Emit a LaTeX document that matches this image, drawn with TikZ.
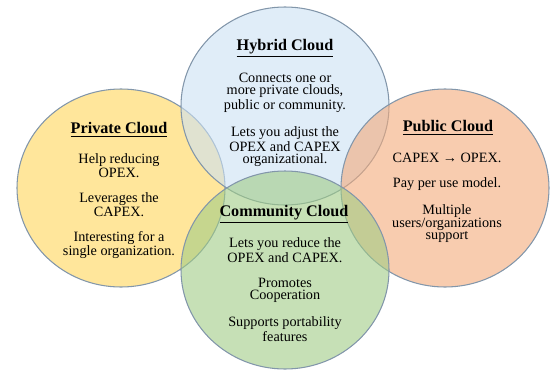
\documentclass[tikz,border=0pt]{standalone}
\usepackage{fontspec}
\setmainfont{Liberation Serif}
\usetikzlibrary{shapes.geometric}

\definecolor{HybridBlue}{RGB}{204,225,244}
\definecolor{PrivateYellow}{RGB}{255,213,88}
\definecolor{PublicSalmon}{RGB}{243,170,122}
\definecolor{CommunityGreen}{RGB}{160,204,133}
\definecolor{CloudEdge}{RGB}{130,150,170}

\begin{document}
\begin{tikzpicture}[
	cloud/.style={draw=CloudEdge, line width=0.6pt, ellipse, minimum width=4.16cm, 
	minimum height=3.96cm, inner sep=0pt, fill opacity=0.6},
	title/.style={font=\fontsize{9.2}{10}\selectfont\bfseries, inner sep=0pt},
	body/.style={align=center, font=\fontsize{8.1}{7.1}\selectfont, inner sep=0pt}]
		
		\useasboundingbox (0,0) rectangle (11.06,7.38);
		
		%Clouds
		\node (PrivateCloud) at (2.42,3.62) [cloud, fill=PrivateYellow]{};
		\node (HybridCloud) at (5.70,5.26) [cloud, fill=HybridBlue]{};
		\node (PublicCloud) at (8.90,3.62) [cloud, fill=PublicSalmon]{};
		\node (CommunityCloud) at (5.70,1.98) [cloud, fill=CommunityGreen]{};
		
		%Titles
		\node (HybridTitle) at (5.70,6.42) [title]{\underline{Hybrid Cloud}};
		\node (PrivateTitle) at (2.38,4.78) [title]{\underline{Private Cloud}};
		\node (PublicTitle) at (8.96,4.82) [title]{\underline{Public Cloud}};
		\node (CommunityTitle) at (5.68,3.10) [title]{\underline{Community Cloud}};
		
		%Texts
		\node (HybridText) at (5.70,4.98) [body]{Connects one or\\more private clouds,\\
		public or community.\\[7pt]Lets you adjust the\\OPEX and CAPEX\\organizational.};
		\node (PrivateText) at (2.38,3.26) [body]{Help reducing\\OPEX.\\[7pt]Leverages the\\
		CAPEX.\\[7pt]Interesting for a\\single organization.};
		\node (PublicText) at (8.94,3.42) [body]{CAPEX \textbf{→} OPEX.\\[7pt]Pay per use model.\\[7pt]
		Multiple\\users/organizations\\support};
		\node (CommunityText) at (5.70,1.58) [body]{Lets you reduce the\\OPEX and CAPEX.\\[7pt]
		Promotes\\Cooperation\\[7pt]Supports portability\\features};
		
\end{tikzpicture}
\end{document}
